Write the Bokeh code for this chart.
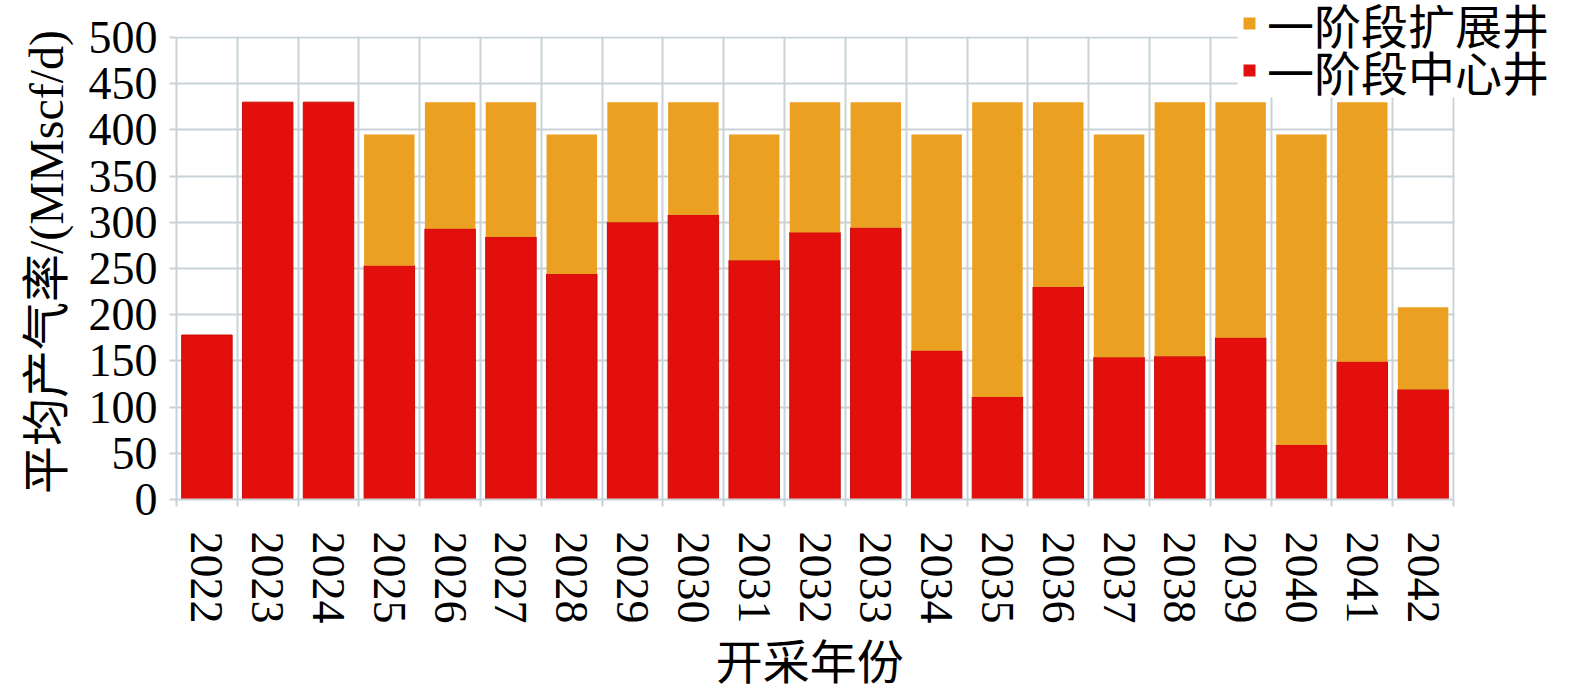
from bokeh.plotting import figure
from bokeh.models import FixedTicker, Legend, LegendItem, ColumnDataSource, BoxAnnotation
from bokeh.embed import file_html
from bokeh.resources import INLINE

years = [str(y) for y in range(2022, 2043)]
center_wells = [178, 430, 430, 253, 293, 284, 244, 300, 308, 259, 289, 294,
                161, 111, 230, 154, 155, 175, 59, 149, 119]
totals = [178, 430, 430, 395, 430, 430, 395, 430, 430, 395, 430, 430,
          395, 430, 430, 395, 430, 430, 395, 430, 208]
expansion_wells = [t - c for t, c in zip(totals, center_wells)]
y_ticks = list(range(0, 501, 50))
series_labels = ["一阶段扩展井", "一阶段中心井"]

RED = "#e30f0c"
ORANGE = "#eba021"
GRID = "#c9d2d6"
SERIF = "Liberation Serif, Noto Sans CJK SC"
NB = "\u00a0"

n = len(years)
xs = [i + 0.5 for i in range(n)]
src = ColumnDataSource(dict(x=xs, center=center_wells, total=totals))

# frame extended right/up so the legend (which overlaps the plot corner) is not clipped
X_END = n * 1384 / 1277
Y_END = 500 * 499 / 462

p = figure(width=1567, height=680, output_backend="svg", toolbar_location=None,
           x_range=(0, X_END), y_range=(0, Y_END),
           frame_width=1384, frame_height=499,
           min_border_left=176, min_border_top=0, min_border_right=7,
           min_border_bottom=181)
p.outline_line_color = None
p.background_fill_color = "white"
p.border_fill_color = "white"

r_center = p.vbar(x="x", top="center", bottom=0, width=0.83, source=src,
                  fill_color=RED, line_color="#c80d0a", line_width=1)
r_exp = p.vbar(x="x", top="total", bottom="center", width=0.83, source=src,
               fill_color=ORANGE, line_color=None)

# legend swatches: zero-size square markers on the same data (invisible in the plot)
sw_exp = p.scatter(x="x", y="total", source=src, size=0, marker="square",
                   fill_color=ORANGE, line_color=None)
sw_center = p.scatter(x="x", y="center", source=src, size=0, marker="square",
                      fill_color=RED, line_color=None)

# white masks hiding the grid outside the real chart area and behind the legend
p.add_layout(BoxAnnotation(left=n + 0.02, fill_color="white", fill_alpha=1,
                           line_color=None, level="glyph"))
p.add_layout(BoxAnnotation(bottom=501.2, fill_color="white", fill_alpha=1,
                           line_color=None, level="glyph"))
p.add_layout(BoxAnnotation(left=17.45, bottom=435, fill_color="white", fill_alpha=1,
                           line_color=None, level="glyph"))

# x axis
p.xaxis.ticker = FixedTicker(ticks=xs, minor_ticks=list(range(n + 1)))
p.xaxis.bounds = (0, n)
p.xaxis.major_label_overrides = {x: y for x, y in zip(xs, years)}
p.xaxis.major_label_orientation = "vertical"
p.xaxis.major_tick_line_color = None
p.xaxis.major_tick_out = 0
p.xaxis.minor_tick_line_color = GRID
p.xaxis.minor_tick_line_width = 2
p.xaxis.minor_tick_out = 7
p.xaxis.minor_tick_in = 0
p.xaxis.axis_line_color = GRID
p.xaxis.axis_line_width = 2
p.xaxis.major_label_text_font = SERIF
p.xaxis.major_label_text_font_size = "46px"
p.xaxis.major_label_text_color = "black"
p.xaxis.major_label_standoff = 25
p.xaxis.axis_label = "开采年份" + NB * 10
p.xaxis.axis_label_text_font = SERIF
p.xaxis.axis_label_text_font_size = "47px"
p.xaxis.axis_label_text_font_style = "normal"
p.xaxis.axis_label_text_color = "black"
p.xaxis.axis_label_standoff = 10

# y axis
p.yaxis.ticker = FixedTicker(ticks=y_ticks)
p.yaxis.bounds = (0, 500)
p.yaxis.major_tick_line_color = GRID
p.yaxis.major_tick_line_width = 2
p.yaxis.major_tick_out = 7
p.yaxis.major_tick_in = 0
p.yaxis.minor_tick_line_color = None
p.yaxis.axis_line_color = GRID
p.yaxis.axis_line_width = 2
p.yaxis.major_label_text_font = SERIF
p.yaxis.major_label_text_font_size = "46px"
p.yaxis.major_label_text_color = "black"
p.yaxis.major_label_standoff = 12
p.yaxis.axis_label = "平均产气率/(MMscf/d)" + NB * 2
p.yaxis.axis_label_text_font = SERIF
p.yaxis.axis_label_text_font_size = "48px"
p.yaxis.axis_label_text_font_style = "normal"
p.yaxis.axis_label_text_color = "black"
p.yaxis.axis_label_standoff = 13

# grids
p.xgrid.ticker = FixedTicker(ticks=list(range(n + 1)))
p.xgrid.grid_line_color = GRID
p.xgrid.grid_line_width = 2
p.ygrid.grid_line_color = GRID
p.ygrid.grid_line_width = 2


def make_legend(label, renderers, loc):
    lg = Legend(items=[LegendItem(label=label, renderers=renderers)], location=loc)
    lg.label_text_font = SERIF
    lg.label_text_font_size = "47px"
    lg.label_text_color = "black"
    lg.glyph_width = 30
    lg.glyph_height = 70
    lg.label_height = 70
    lg.label_standoff = 3
    lg.spacing = 0
    lg.padding = 0
    lg.margin = 0
    lg.border_line_color = None
    lg.background_fill_alpha = 0
    return lg


p.add_layout(make_legend(series_labels[0], [sw_exp], (1058, 441)), "center")
p.add_layout(make_legend(series_labels[1], [sw_center], (1058, 394)), "center")

open("out.html", "w").write(file_html(p, INLINE))
